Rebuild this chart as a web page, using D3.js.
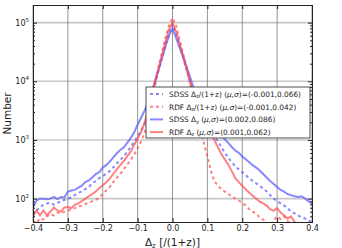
<!DOCTYPE html>
<html>
<head>
<meta charset="utf-8">
<script src="https://cdn.jsdelivr.net/npm/d3@7"></script>
<style>
  body { margin: 0; background: #fff; }
  text { font-family: "DejaVu Sans", sans-serif; }
</style>
</head>
<body>
<div class="chart"></div>
<script>
// bin centres, -0.40 .. 0.40 step 0.01
const bins = [-0.40,-0.39,-0.38,-0.37,-0.36,-0.35,-0.34,-0.33,-0.32,-0.31,-0.30,-0.29,-0.28,-0.27,-0.26,-0.25,-0.24,-0.23,-0.22,-0.21,
  -0.20,-0.19,-0.18,-0.17,-0.16,-0.15,-0.14,-0.13,-0.12,-0.11,-0.10,-0.09,-0.08,-0.07,-0.06,-0.05,-0.04,-0.03,-0.02,-0.01,
  0.00,0.01,0.02,0.03,0.04,0.05,0.06,0.07,0.08,0.09,0.10,0.11,0.12,0.13,0.14,0.15,0.16,0.17,0.18,0.19,
  0.20,0.21,0.22,0.23,0.24,0.25,0.26,0.27,0.28,0.29,0.30,0.31,0.32,0.33,0.34,0.35,0.36,0.37,0.38,0.39,0.40];

const sdssNorm = [52,63,71,79,83,85,79,85,91,95,100,105,115,126,132,145,158,182,200,224,
  240,269,295,339,398,457,525,631,759,933,1148,1445,1905,2818,5012,8913,15140,25120,41690,66070,
  93300,66070,41690,26300,15850,9550,5623,3548,2512,1905,1514,1259,1148,955,759,603,501,417,355,316,
  282,251,224,200,182,166,148,132,115,100,91,83,76,69,60,56,52,48,46,42,40];

const rdfNorm = [42,38,46,44,50,54,52,58,56,60,63,65,69,74,76,81,85,91,95,105,
  120,138,158,191,224,263,316,380,457,562,724,955,1318,2239,4467,8913,17780,31620,56230,89130,
  120200,89130,52480,30200,17780,10000,5623,3020,1585,891,525,302,200,166,145,132,120,110,100,93,
  85,76,66,60,55,48,44,38,35,42,50,45,50,42,35,32,28,26,25,24,22];

const sdssRaw = [71,93,100,100,98,100,107,98,107,105,132,138,141,155,166,191,204,229,263,282,
  339,372,427,501,589,676,741,891,1072,1349,1820,2399,3162,4467,6607,10000,15850,25120,39810,60260,
  79430,56230,38020,26300,17780,12020,7943,5623,3981,3162,2512,2089,1738,1445,1202,1023,891,759,661,603,
  525,468,417,372,339,302,263,229,200,178,158,141,132,120,115,110,107,110,100,91,83];

const rdfRaw = [50,63,52,63,52,60,71,63,60,71,72,69,79,83,91,100,110,120,132,151,
  170,191,219,263,316,372,437,525,631,832,1047,1380,1995,3162,5623,10000,16600,28180,47860,75860,
  100000,70790,44670,28180,16600,10000,6026,3802,2630,1995,1514,1202,1000,759,575,468,380,295,224,191,
  166,145,126,112,100,89,83,76,66,62,69,58,52,46,50,40,35,32,30,28,26];

const xTicks = [-0.4,-0.3,-0.2,-0.1,0.0,0.1,0.2,0.3,0.4];
const yTicks = [100,1000,10000,100000];

const series = [
  {name: 'SDSS', kind: 'norm', vals: sdssNorm, color: 'rgb(85,85,255)', dash: '3,3', stats: '(-0.001,0.066)'},
  {name: 'RDF', kind: 'norm', vals: rdfNorm, color: 'rgb(255,75,75)', dash: '3,3', stats: '(-0.001,0.042)'},
  {name: 'SDSS', kind: 'raw', vals: sdssRaw, color: 'rgb(85,85,255)', dash: null, stats: '(0.002,0.086)'},
  {name: 'RDF', kind: 'raw', vals: rdfRaw, color: 'rgb(255,75,75)', dash: null, stats: '(0.001,0.062)'}
];

const w = 342, h = 248;
const m = {left: 33, right: 30, top: 5, bottom: 26};

const svg = d3.select('div.chart').append('svg')
  .attr('width', w).attr('height', h);

const x = d3.scaleLinear().domain([-0.4, 0.4]).range([m.left, w - m.right]);
const y = d3.scaleLog().domain([40, 200000]).range([h - m.bottom, m.top]);

svg.append('clipPath').attr('id', 'clip')
  .append('rect')
  .attr('x', m.left).attr('y', m.top)
  .attr('width', w - m.left - m.right).attr('height', h - m.top - m.bottom);

// grid
svg.append('g').selectAll('line').data(yTicks).enter().append('line')
  .attr('x1', m.left).attr('x2', w - m.right)
  .attr('y1', d => y(d)).attr('y2', d => y(d))
  .attr('stroke', '#c8c8c8').attr('stroke-width', 1.6);
svg.append('g').selectAll('line').data(xTicks).enter().append('line')
  .attr('x1', d => x(d)).attr('x2', d => x(d))
  .attr('y1', m.top).attr('y2', h - m.bottom)
  .attr('stroke', '#7a7a7a').attr('stroke-width', 0.8);

// curves
const line = d3.line()
  .x((d, i) => x(bins[i]))
  .y(d => y(d));

svg.append('g').attr('clip-path', 'url(#clip)')
  .selectAll('path').data(series).enter().append('path')
  .attr('d', d => line(d.vals))
  .attr('fill', 'none')
  .attr('stroke', d => d.color)
  .attr('stroke-opacity', 0.7)
  .attr('stroke-width', 2)
  .attr('stroke-dasharray', d => d.dash);

// axes (ticks pointing inward)
const xAxis = d3.axisBottom(x).tickValues(xTicks).tickSize(-4).tickPadding(3).tickFormat(d3.format('.1f'));
const gx = svg.append('g').attr('transform', 'translate(0,' + (h - m.bottom) + ')').call(xAxis);
const xTop = d3.axisTop(x).tickValues(xTicks).tickSize(-4).tickFormat('');
const gxt = svg.append('g').attr('transform', 'translate(0,' + m.top + ')').call(xTop);

const minor = [];
[10, 100, 1000, 10000, 100000].forEach(dec => {
  for (let k = 2; k <= 9; k++) {
    const v = dec * k;
    if (v >= 40 && v <= 200000) minor.push(v);
  }
});
const yMinor = d3.axisLeft(y).tickValues(minor).tickSize(-2).tickFormat('');
const gym = svg.append('g').attr('transform', 'translate(' + m.left + ',0)').call(yMinor);
const yMinorR = d3.axisRight(y).tickValues(minor).tickSize(-2).tickFormat('');
const gymr = svg.append('g').attr('transform', 'translate(' + (w - m.right) + ',0)').call(yMinorR);
const yAxis = d3.axisLeft(y).tickValues(yTicks).tickSize(-4).tickFormat('');
const gy = svg.append('g').attr('transform', 'translate(' + m.left + ',0)').call(yAxis);
const yAxisR = d3.axisRight(y).tickValues(yTicks).tickSize(-4).tickFormat('');
const gyr = svg.append('g').attr('transform', 'translate(' + (w - m.right) + ',0)').call(yAxisR);

[gx, gxt, gym, gymr, gy, gyr].forEach(g => {
  g.select('.domain').attr('stroke', '#222');
  g.selectAll('.tick line').attr('stroke', '#222');
});
gx.selectAll('.tick text').attr('font-size', 8).attr('fill', '#222')
  .attr('font-family', '"DejaVu Sans", sans-serif');

// y tick labels 10^n
const yl = svg.append('g');
yTicks.forEach(v => {
  const t = yl.append('text')
    .attr('x', 29).attr('y', y(v) + 3)
    .attr('text-anchor', 'end')
    .attr('font-size', 8).attr('fill', '#222');
  t.append('tspan').text('10');
  t.append('tspan').attr('dy', -4).attr('font-size', 5.5).text(Math.round(Math.log10(v)));
});

// axis titles
svg.append('text')
  .attr('transform', 'translate(11,' + ((m.top + h - m.bottom) / 2) + ') rotate(-90)')
  .attr('text-anchor', 'middle')
  .attr('font-size', 10.5).attr('fill', '#222')
  .text('Number');

const xt = svg.append('text')
  .attr('x', x(0)).attr('y', 245.5)
  .attr('text-anchor', 'middle')
  .attr('font-size', 10.5).attr('fill', '#222');
xt.append('tspan').text('Δ');
xt.append('tspan').attr('dy', 2).attr('font-size', 7).text('z');
xt.append('tspan').attr('dy', -2).text(' [/(1+z)]');

// legend
const lg = svg.append('g');
lg.append('rect')
  .attr('x', 146).attr('y', 87).attr('width', 164).attr('height', 51)
  .attr('fill', '#fff').attr('stroke', '#222').attr('stroke-width', 0.8);

series.forEach((s, i) => {
  const ly = 94 + i * 12.7;
  lg.append('line')
    .attr('x1', 150).attr('x2', 163).attr('y1', ly).attr('y2', ly)
    .attr('stroke', s.color).attr('stroke-opacity', 0.7)
    .attr('stroke-width', 2).attr('stroke-dasharray', s.dash);
  const t = lg.append('text')
    .attr('x', 169).attr('y', ly + 2.8)
    .attr('font-size', 7.4).attr('fill', '#222');
  t.append('tspan').text(s.name + '  Δ');
  t.append('tspan').attr('dy', 1.5).attr('font-size', 5).text('z');
  t.append('tspan').attr('dy', -1.5).text(s.kind === 'norm' ? '/(1+z) (' : '  (');
  t.append('tspan').attr('font-style', 'italic').text('μ,σ');
  t.append('tspan').text(')=' + s.stats);
});
</script>
</body>
</html>
